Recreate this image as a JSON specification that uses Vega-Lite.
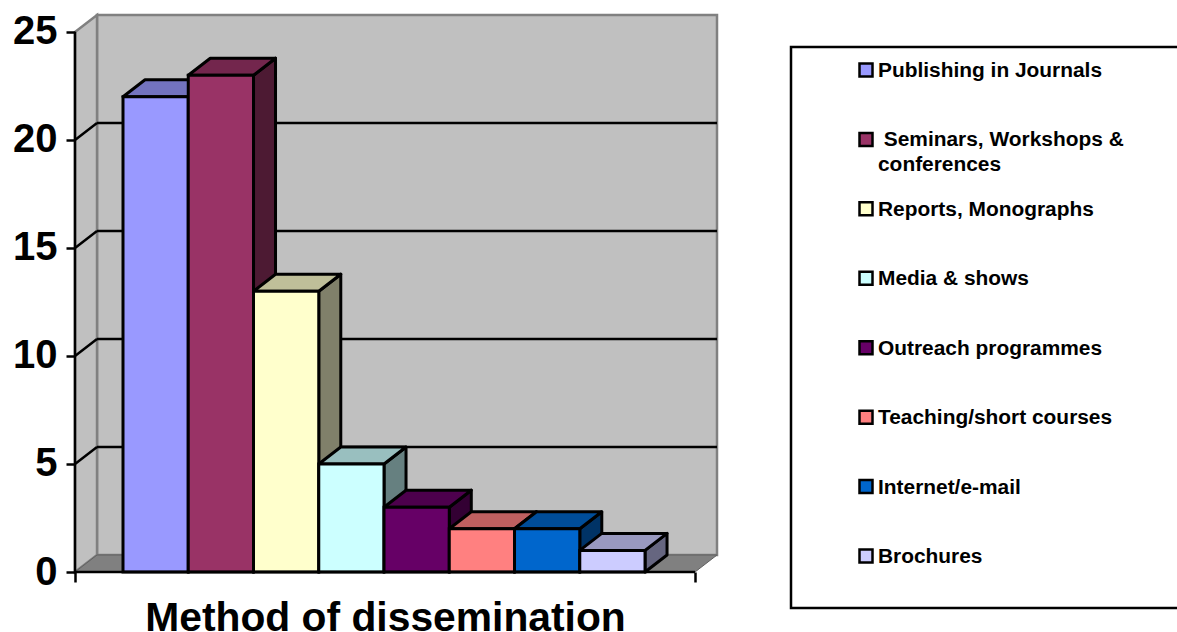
{
"$schema":"https://vega.github.io/schema/vega-lite/v6.json",
"width":642,"height":557,
"autosize":{"type":"none"},
"padding":{"left":75,"top":15,"right":460,"bottom":60},
"background":"white",
"config":{"view":{"stroke":null},"font":"Liberation Sans"},
"datasets":{
"bars":[
{"method":"Publishing in Journals","label":"Publishing in Journals","value":22},
{"method":"Seminars, Workshops & conferences","label":"\u200b\u00a0Seminars, Workshops &|conferences","value":23},
{"method":"Reports, Monographs","label":"Reports, Monographs","value":13},
{"method":"Media & shows","label":"Media & shows","value":5},
{"method":"Outreach programmes","label":"Outreach programmes","value":3},
{"method":"Teaching/short courses","label":"Teaching/short courses","value":2},
{"method":"Internet/e-mail","label":"Internet/e-mail","value":2},
{"method":"Brochures","label":"Brochures","value":1}
],
"levels":[{"level":5},{"level":10},{"level":15},{"level":20}],
"edges":[{"edge":0},{"edge":1}],
"single":[{"part":"frame"}]
},
"layer":[
{
"resolve":{"scale":{"color":"independent"}},
"layer":[
{"data":{"name":"single"},
 "mark":{"type":"rect","fill":"#C0C0C0","stroke":"#808080","strokeWidth":2.5},
 "encoding":{
  "x":{"datum":-0.3986,"type":"quantitative","scale":{"domain":[-0.7356,9.103],"nice":false,"zero":false},
    "axis":{"values":[-0.7356,8.766],"labels":false,"grid":false,"domain":false,"ticks":true,"tickSize":10,"tickWidth":2.5,"tickColor":"black",
      "title":"Method of dissemination","titleFont":"Liberation Sans","titleFontSize":40.8,"titleFontWeight":"bold","titleColor":"black","titleX":310,"titleY":58,"titleBaseline":"alphabetic","titleAlign":"center","zindex":1}},
  "x2":{"datum":9.103},
  "y":{"datum":0.787,"type":"quantitative","scale":{"domain":[0,25.787],"nice":false,"zero":false},
    "axis":{"values":[0,5,10,15,20,25],"title":null,"grid":false,"domain":false,"tickSize":9,"tickWidth":2.5,"tickColor":"black",
      "labelFont":"Liberation Sans","labelFontSize":40,"labelFontWeight":"bold","labelColor":"black","labelPadding":9,"zindex":1}},
  "y2":{"datum":25.787}
 }},
{"data":{"name":"edges"},
 "transform":[{"calculate":"-0.7356+datum.edge*0.3374","as":"wx"},{"calculate":"datum.edge*0.787","as":"wy0"},{"calculate":"25+datum.edge*0.787","as":"wy1"}],
 "mark":{"type":"area","fill":"#C0C0C0","stroke":"#808080","strokeWidth":2.5},
 "encoding":{"x":{"field":"wx","type":"quantitative"},"y":{"field":"wy1","type":"quantitative","stack":null},"y2":{"field":"wy0"}}},
{"data":{"name":"edges"},
 "transform":[{"calculate":"datum.edge*0.787","as":"fy"},{"calculate":"-0.7356+datum.edge*0.3374","as":"fx0"},{"calculate":"8.766+datum.edge*0.3374","as":"fx1"}],
 "mark":{"type":"area","orient":"horizontal","fill":"#808080","stroke":"#606060","strokeWidth":1},
 "encoding":{"y":{"field":"fy","type":"quantitative"},"x":{"field":"fx0","type":"quantitative","stack":null},"x2":{"field":"fx1"}}},
{"data":{"name":"levels"},
 "transform":[{"calculate":"datum.level+0.787","as":"ly"}],
 "mark":{"type":"rule","color":"black","strokeWidth":2.5},
 "encoding":{"x":{"datum":-0.3986,"type":"quantitative"},"x2":{"datum":9.103},"y":{"field":"ly","type":"quantitative"}}},
{"data":{"name":"levels"},
 "transform":[{"calculate":"[0,1]","as":"edge"},{"flatten":["edge"]},{"calculate":"-0.7356+datum.edge*0.3374","as":"lx"},{"calculate":"datum.level+datum.edge*0.787","as":"ly"}],
 "mark":{"type":"line","color":"black","strokeWidth":2.5},
 "encoding":{"x":{"field":"lx","type":"quantitative"},"y":{"field":"ly","type":"quantitative"},"detail":{"field":"level"}}},
{"data":{"name":"bars"},
 "transform":[{"window":[{"op":"row_number","as":"n"}]},{"calculate":"[0,1]","as":"edge"},{"flatten":["edge"]},
  {"calculate":"datum.n+datum.edge*0.3374","as":"sx"},{"calculate":"datum.value+datum.edge*0.787","as":"sy1"},{"calculate":"datum.edge*0.787","as":"sy0"}],
 "mark":{"type":"area","stroke":"black","strokeWidth":3,"strokeJoin":"round"},
 "encoding":{"x":{"field":"sx","type":"quantitative"},"y":{"field":"sy1","type":"quantitative","stack":null},"y2":{"field":"sy0"},
  "color":{"field":"method","legend":null,"sort":null,"scale":{"domain":["Publishing in Journals","Seminars, Workshops & conferences","Reports, Monographs","Media & shows","Outreach programmes","Teaching/short courses","Internet/e-mail","Brochures"],
   "range":["#4D4D80","#4D1A33","#80806A","#668080","#330033","#804040","#003366","#666680"]}}}},
{"data":{"name":"bars"},
 "transform":[{"window":[{"op":"row_number","as":"n"}]},{"calculate":"[0,1]","as":"edge"},{"flatten":["edge"]},
  {"calculate":"datum.n-1+datum.edge*0.3374","as":"tx0"},{"calculate":"datum.n+datum.edge*0.3374","as":"tx1"},{"calculate":"datum.value+datum.edge*0.787","as":"ty"}],
 "mark":{"type":"area","orient":"horizontal","stroke":"black","strokeWidth":3,"strokeJoin":"round"},
 "encoding":{"y":{"field":"ty","type":"quantitative"},"x":{"field":"tx0","type":"quantitative","stack":null},"x2":{"field":"tx1"},
  "color":{"field":"method","legend":null,"sort":null,"scale":{"domain":["Publishing in Journals","Seminars, Workshops & conferences","Reports, Monographs","Media & shows","Outreach programmes","Teaching/short courses","Internet/e-mail","Brochures"],
   "range":["#7373BF","#73264D","#BFBF99","#99BFBF","#4D004D","#BF6060","#004D99","#9999BF"]}}}},
{"data":{"name":"bars"},
 "transform":[{"window":[{"op":"row_number","as":"n"}]},{"calculate":"datum.n-1","as":"bx0"}],
 "mark":{"type":"rect","stroke":"black","strokeWidth":3},
 "encoding":{"x":{"field":"bx0","type":"quantitative"},"x2":{"field":"n"},"y":{"field":"value","type":"quantitative"},"y2":{"datum":0},
  "color":{"field":"method","legend":null,"sort":null,"scale":{"domain":["Publishing in Journals","Seminars, Workshops & conferences","Reports, Monographs","Media & shows","Outreach programmes","Teaching/short courses","Internet/e-mail","Brochures"],
   "range":["#9999FF","#993366","#FFFFCC","#CCFFFF","#660066","#FF8080","#0066CC","#CCCCFF"]}}}},
{"data":{"name":"single"},
 "mark":{"type":"rule","color":"black","strokeWidth":2.5},
 "encoding":{"x":{"datum":-0.7356,"type":"quantitative"},"y":{"datum":0,"type":"quantitative"},"y2":{"datum":25}}},
{"data":{"name":"single"},
 "mark":{"type":"rule","color":"black","strokeWidth":2.5},
 "encoding":{"x":{"datum":-0.7356,"type":"quantitative"},"x2":{"datum":8.766},"y":{"datum":0,"type":"quantitative"}}}
]},
{
"layer":[
{"data":{"name":"single"},
 "mark":{"type":"rect","fill":"white","stroke":"black","strokeWidth":2.5},
 "encoding":{"x":{"value":716},"x2":{"value":1115},"y":{"value":32},"y2":{"value":593}}},
{"data":{"name":"bars"},
 "mark":{"type":"point","shape":"square","filled":true,"size":169,"stroke":"black","strokeWidth":2.5,"opacity":1},
 "encoding":{"x":{"value":791},
  "y":{"field":"method","type":"ordinal","sort":null,"axis":null,"scale":{"type":"point","padding":0,"range":[55,541]}},
  "fill":{"field":"method","legend":null,"sort":null,"scale":{"domain":["Publishing in Journals","Seminars, Workshops & conferences","Reports, Monographs","Media & shows","Outreach programmes","Teaching/short courses","Internet/e-mail","Brochures"],
   "range":["#9999FF","#993366","#FFFFCC","#CCFFFF","#660066","#FF8080","#0066CC","#CCCCFF"]}}}},
{"data":{"name":"bars"},
 "mark":{"type":"text","align":"left","baseline":"alphabetic","dy":7,"font":"Liberation Sans","fontWeight":"bold","fontSize":20.9,"lineHeight":25,"lineBreak":"|","color":"black"},
 "encoding":{"x":{"value":803},
  "y":{"field":"method","type":"ordinal","sort":null,"axis":null,"scale":{"type":"point","padding":0,"range":[55,541]}},
  "text":{"field":"label"}}}
]}
],
"resolve":{"scale":{"y":"independent","x":"independent"}}
}
